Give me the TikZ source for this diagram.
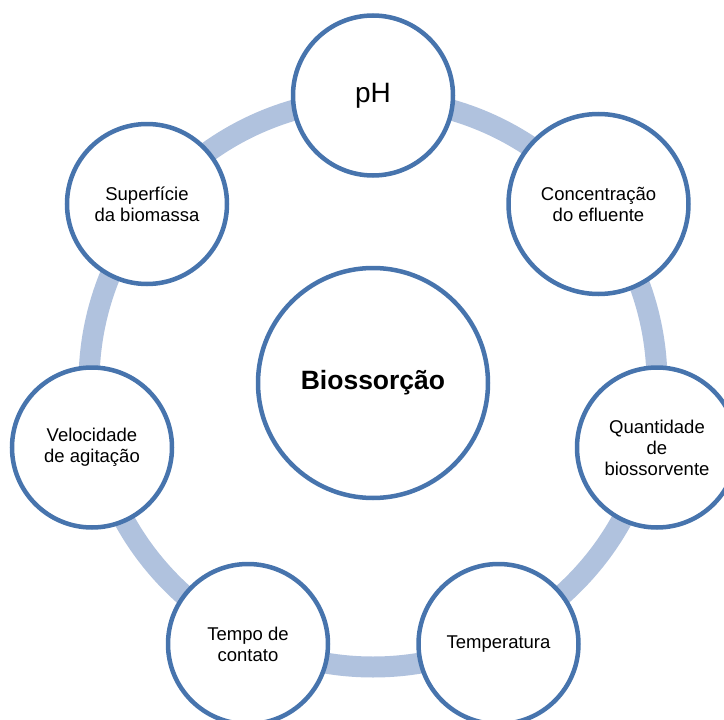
\documentclass[tikz,border=0pt]{standalone}
\usepackage{fontspec}
\setmainfont{Liberation Sans}
\definecolor{ringc}{HTML}{B0C2DE}
\definecolor{edgec}{HTML}{4774AD}
\tikzset{
  factor/.style={circle, draw=edgec, line width=4.5pt, fill=white, inner sep=0pt,
    minimum size=160pt, align=center, font=\fontsize{18.5}{21}\selectfont},
  hub/.style={circle, draw=edgec, line width=4.5pt, fill=white, inner sep=0pt,
    minimum size=230pt, align=center, font=\fontsize{26.5}{29}\selectfont\bfseries},
  ringline/.style={draw=ringc, line width=21pt}
}
\begin{document}
\begin{tikzpicture}[x=1pt,y=-1pt]
\useasboundingbox (0,0) rectangle (724,720);
\clip (0,0) rectangle (724,720);
\coordinate (o) at (373,383);
\draw[ringline] (o) circle[radius=284pt];
\node[hub] (c) at (o) {Biossorção};
\node[factor, font=\fontsize{28}{32}\selectfont] (ph) at (373,95.5) {pH};
\node[factor, minimum size=180pt] (conc) at (598.5,204) {Concentração\\do efluente};
\node[factor] (quant) at (657,447.5) {Quantidade\\de\\biossorvente};
\node[factor] (temp) at (498.5,644) {Temperatura};
\node[factor] (tempo) at (248,644) {Tempo de\\contato};
\node[factor] (vel) at (92,447.5) {Velocidade\\de agitação};
\node[factor] (sup) at (147,204) {Superfície\\da biomassa};
\end{tikzpicture}
\end{document}
